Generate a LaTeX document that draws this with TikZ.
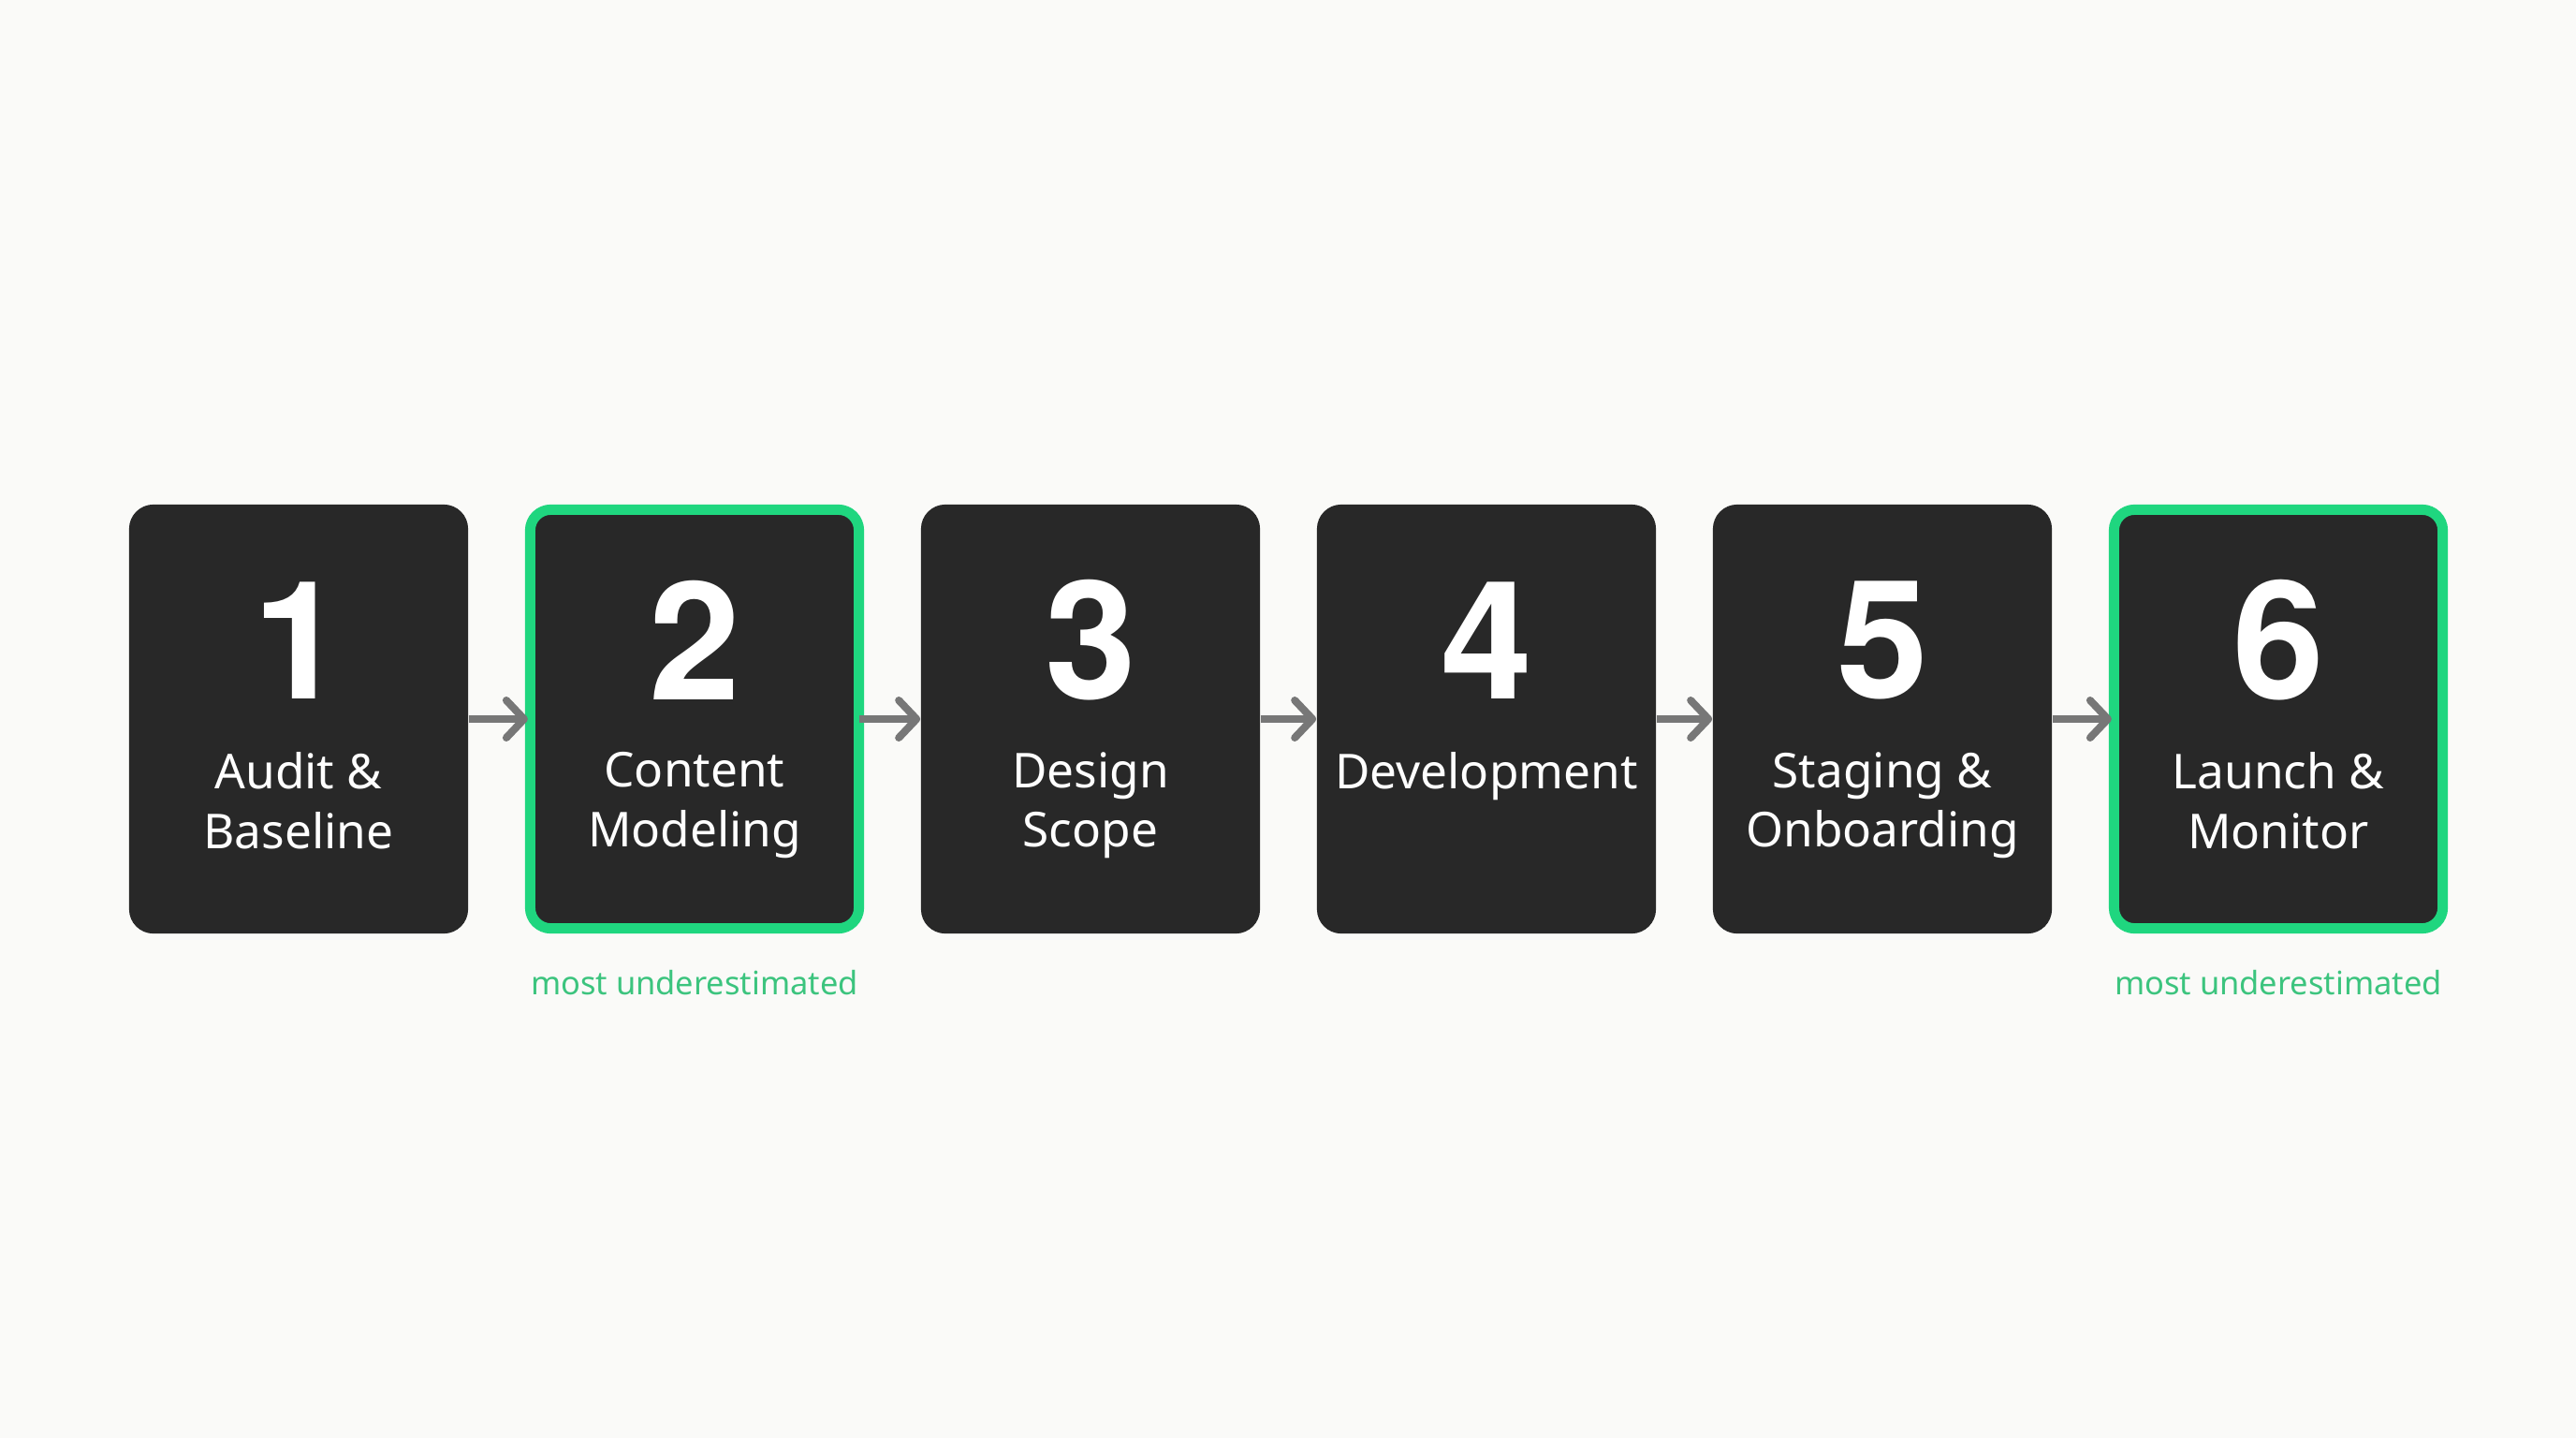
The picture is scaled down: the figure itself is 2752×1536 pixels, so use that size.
\documentclass[tikz,border=0pt]{standalone}
\usepackage{fontspec}
\setmainfont{Noto Sans}
\newfontfamily\numfont{TeX Gyre Heros}
\usetikzlibrary{arrows.meta}

\definecolor{bgpage}{HTML}{FAFAF8}
\definecolor{boxfill}{HTML}{282828}
\definecolor{accent}{HTML}{1FD67F}
\definecolor{accenttext}{HTML}{3CC47E}
\definecolor{arrowgray}{HTML}{777777}

\begin{document}
\begin{tikzpicture}[x=0.01cm, y=-0.01cm]

	% ---------- Helper styles ----------
	\tikzset{
		stepbox/.style={fill=boxfill, rounded corners=0.26cm, inner sep=0pt,
			minimum width=3.62cm, minimum height=4.58cm},
		hot/.style={stepbox, draw=accent, line width=0.11cm, rounded corners=0.22cm,
			minimum width=3.51cm, minimum height=4.47cm},
		num/.style={text=white, inner sep=0pt, font=\numfont\bfseries\fontsize{50}{50}\selectfont},
		lbl/.style={text=white, align=center, inner sep=0pt, anchor=north,
			font=\fontsize{14.6}{18}\selectfont},
		note/.style={text=accenttext, inner sep=0pt, font=\fontsize{9.8}{12}\selectfont},
		flow/.style={arrowgray, line width=0.08cm,
			-{Straight Barb[length=0.19cm, width=0.4cm, round]}}
	}

	% ---------- Page ----------
	\fill[bgpage] (0,0) rectangle (2752,1536);

	% ---------- Steps (box + number) ----------
	\foreach \i/\x in {1/319,3/1165,4/1588,5/2011} {
		\node[stepbox] (s\i) at (\x,768) {};
	}
	\foreach \i/\x in {2/742,6/2434} {
		\node[hot] (s\i) at (\x,768) {};
	}
	\foreach \i/\x in {1/319,2/742,3/1165,4/1588,5/2011,6/2434} {
		\node[num] (n\i) at (\x,684) {\i};
	}

	% ---------- Step labels ----------
	\node[lbl] (l1) at (319,803) {Audit \&\\Baseline};
	\node[lbl] (l2) at (742,803) {Content\\Modeling};
	\node[lbl] (l3) at (1165,803) {Design\\Scope};
	\node[lbl] (l4) at (1588,803) {Development};
	\node[lbl] (l5) at (2011,803) {Staging \&\\Onboarding};
	\node[lbl] (l6) at (2434,803) {Launch \&\\Monitor};

	% ---------- Notes under the highlighted steps ----------
	\node[note] (u2) at (742,1050) {most underestimated};
	\node[note] (u6) at (2434,1050) {most underestimated};

	% ---------- Arrows ----------
	\draw[flow] (s1.east) -- ([xshift=0.03cm]s2.west);
	\draw[flow] ([xshift=-0.05cm]s2.east) -- (s3.west);
	\draw[flow] (s3.east) -- (s4.west);
	\draw[flow] (s4.east) -- (s5.west);
	\draw[flow] (s5.east) -- ([xshift=0.03cm]s6.west);

\end{tikzpicture}
\end{document}
